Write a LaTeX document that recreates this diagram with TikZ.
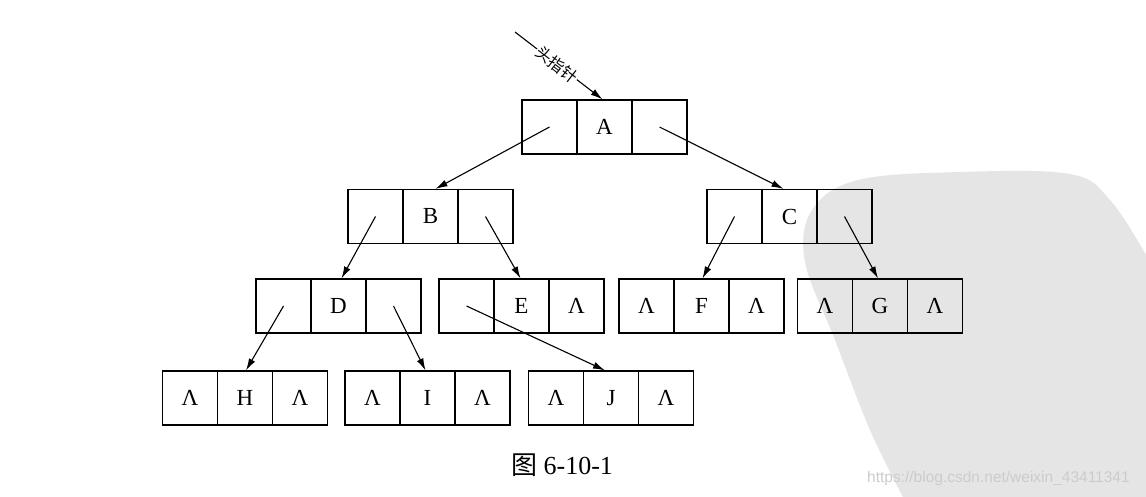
\documentclass[tikz,border=0pt]{standalone}
\usepackage{fontspec}
\setmainfont{Liberation Serif}
\newfontfamily\cjk{Noto Sans CJK SC}
\newfontfamily\urlfont{Liberation Sans}
\usetikzlibrary{arrows.meta,calc}
\tikzset{
  cell/.style={draw, line width=1.2pt, minimum width=55pt, minimum height=54pt, inner sep=0pt,
    font=\fontsize{23}{23}\selectfont},
  ptr/.style={line width=1.1pt, -{Latex[length=12pt,width=7pt]}},
  wm/.style={fill=black!10},
}
\newcommand{\trinode}[6]{%
  \node[cell] (#1) at (#2,#3) {#5};
  \node[cell] (#1l) at (#2-55,#3) {#4};
  \node[cell] (#1r) at (#2+55,#3) {#6};
}
\begin{document}
\begin{tikzpicture}[x=1pt,y=-1pt]
\useasboundingbox (0,0) rectangle (1146,497);
\fill[white] (0,0) rectangle (1146,497);
% watermark
\fill[wm] plot[smooth, tension=0.6] coordinates {(903,497) (870,430) (835,340) (805,262) (812,210) (858,180) (960,172) (1070,174) (1110,200) (1146,255)} -- (1146,497) -- cycle;
\node[font=\urlfont\fontsize{15.5}{15.5}\selectfont, text=black!20, anchor=west, inner sep=0pt] (url) at (867,478) {https://blog.csdn.net/weixin\_43411341};
% nodes
\trinode{A}{604.5}{127}{}{A}{}
\trinode{B}{430.5}{216.5}{}{B}{}
\trinode{C}{789.5}{216.5}{}{C}{}
\trinode{D}{338.5}{306}{}{D}{}
\trinode{E}{521.5}{306}{}{E}{Λ}
\trinode{F}{701.5}{306}{Λ}{F}{Λ}
\trinode{G}{880}{306}{Λ}{G}{Λ}
\trinode{H}{245}{398}{Λ}{H}{Λ}
\trinode{I}{427.5}{398}{Λ}{I}{Λ}
\trinode{J}{611}{398}{Λ}{J}{Λ}
% head pointer
\coordinate (hs) at (515,32);
\draw[ptr] (hs) -- ([xshift=-2pt]A.north)
  node[pos=0.48, sloped, fill=white, inner sep=1pt, font=\cjk\fontsize{16}{16}\selectfont] (hl) {头指针};
% pointers
\draw[ptr] (Al.center) -- ([xshift=5pt]B.north);
\draw[ptr] (Ar.center) -- ([xshift=-6pt]C.north);
\draw[ptr] (Bl.center) -- ([xshift=3pt]D.north);
\draw[ptr] (Br.center) -- ([xshift=-1pt]E.north);
\draw[ptr] (Cl.center) -- ([xshift=1pt]F.north);
\draw[ptr] (Cr.center) -- ([xshift=-2pt]G.north);
\draw[ptr] (Dl.center) -- ([xshift=1pt]H.north);
\draw[ptr] (Dr.center) -- ([xshift=-2pt]I.north);
\draw[ptr] (El.center) -- ([xshift=-6pt]J.north);
% caption
\node[font=\fontsize{26}{26}\selectfont] (cap) at (562,465) {{\cjk 图} 6-10-1};
\end{tikzpicture}
\end{document}
